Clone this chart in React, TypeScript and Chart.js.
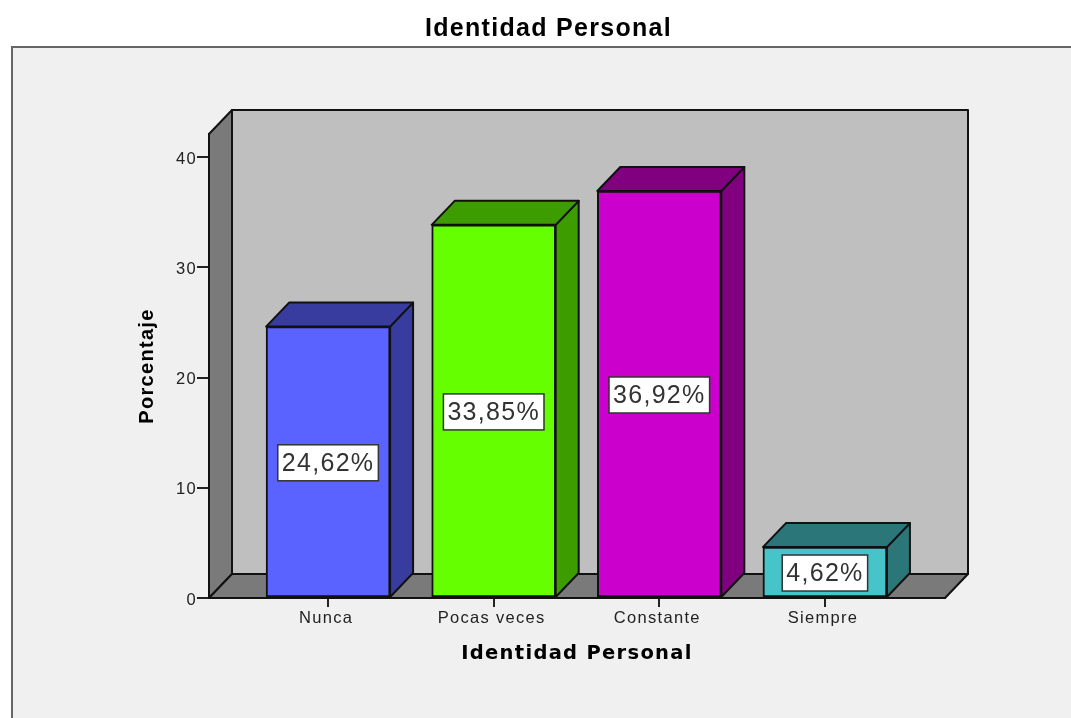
import React, { useEffect, useRef } from "react";
import { Chart, registerables } from "chart.js";

Chart.register(...registerables);

const categories = ["Nunca", "Pocas veces", "Constante", "Siempre"];
const percentages = [24.62, 33.85, 36.92, 4.62];
const valueLabels = ["24,62%", "33,85%", "36,92%", "4,62%"];
const frontColors = ["#5a62ff", "#66ff00", "#cc00cc", "#47c4c9"];
const shadeColors = ["#383c9e", "#3c9c00", "#800080", "#2b7679"];
const yTicks = [0, 10, 20, 30, 40];

const DX = 23;
const DY = 24;
const LINE = "#111111";

function poly(ctx: CanvasRenderingContext2D, pts: number[][], fill: string) {
  ctx.beginPath();
  pts.forEach((p, i) => (i ? ctx.lineTo(p[0], p[1]) : ctx.moveTo(p[0], p[1])));
  ctx.closePath();
  ctx.fillStyle = fill;
  ctx.fill();
  ctx.strokeStyle = LINE;
  ctx.lineWidth = 2;
  ctx.lineJoin = "round";
  ctx.stroke();
}

const box3d = {
  id: "box3d",
  beforeDraw(chart: any) {
    const ctx = chart.ctx;
    ctx.save();
    ctx.fillStyle = "#f0f0f0";
    ctx.fillRect(12, 47, chart.width, chart.height);
    ctx.strokeStyle = "#666666";
    ctx.lineWidth = 2;
    ctx.strokeRect(12, 47, chart.width + 20, chart.height + 20);
    ctx.restore();
    ctx.letterSpacing = "1.3px";
  },
  beforeDatasetsDraw(chart: any) {
    const ctx = chart.ctx;
    const { left, right, top, bottom } = chart.chartArea;
    ctx.save();
    poly(ctx, [[left + DX, top - DY], [right + DX, top - DY], [right + DX, bottom - DY], [left + DX, bottom - DY]], "#bfbfbf");
    poly(ctx, [[left, top], [left + DX, top - DY], [left + DX, bottom - DY], [left, bottom]], "#7a7a7a");
    poly(ctx, [[left, bottom], [left + DX, bottom - DY], [right + DX, bottom - DY], [right, bottom]], "#7a7a7a");
    const meta = chart.getDatasetMeta(0);
    meta.data.forEach((bar: any, i: number) => {
      const hw = bar.width / 2;
      const l = bar.x - hw;
      const r = bar.x + hw;
      const t = bar.y;
      const b = bar.base;
      poly(ctx, [[r, t], [r + DX, t - DY], [r + DX, b - DY], [r, b]], shadeColors[i]);
      poly(ctx, [[l, t], [l + DX, t - DY], [r + DX, t - DY], [r, t]], shadeColors[i]);
    });
    ctx.restore();
  },
  afterDatasetsDraw(chart: any) {
    const ctx = chart.ctx;
    const meta = chart.getDatasetMeta(0);
    ctx.save();
    ctx.font = '25px "Liberation Sans"';
    ctx.letterSpacing = "1.3px";
    ctx.textAlign = "center";
    ctx.textBaseline = "middle";
    meta.data.forEach((bar: any, i: number) => {
      const cy = (bar.y + bar.base) / 2 + 1;
      const w = ctx.measureText(valueLabels[i]).width + 8;
      ctx.fillStyle = "#ffffff";
      ctx.fillRect(bar.x - w / 2, cy - 18, w, 36);
      ctx.strokeStyle = "#333333";
      ctx.lineWidth = 1.5;
      ctx.strokeRect(bar.x - w / 2, cy - 18, w, 36);
      ctx.fillStyle = "#333333";
      ctx.fillText(valueLabels[i], bar.x, cy + 1);
    });
    ctx.restore();
  },
};

export default function App() {
  const ref = useRef<HTMLCanvasElement>(null);
  useEffect(() => {
    const chart = new Chart(ref.current as HTMLCanvasElement, {
      type: "bar",
      data: {
        datasets: [
          {
            data: percentages.map((v, i) => ({ x: i, y: v })),
            backgroundColor: frontColors,
            borderColor: LINE,
            borderWidth: 2,
            borderSkipped: false,
            barThickness: 124,
          } as any,
        ],
      },
      options: {
        responsive: false,
        animation: false,
        events: [],
        plugins: {
          legend: { display: false },
          tooltip: { enabled: false },
          title: {
            display: true,
            text: "Identidad Personal",
            color: "#000000",
            font: { family: "Liberation Sans", size: 25, weight: "bold" },
            padding: { top: 14, bottom: 90 },
          },
        },
        scales: {
          x: {
            type: "linear",
            offset: false,
            min: -0.719,
            max: 3.725,
            afterBuildTicks: (s: any) => {
              s.ticks = categories.map((_, i) => ({ value: i }));
            },
            afterFit: (s: any) => {
              s.height = 120;
            },
            ticks: {
              autoSkip: false,
              maxRotation: 0,
              color: "#222222",
              padding: 2,
              labelOffset: -2,
              font: { family: "Liberation Sans", size: 16.5 },
              callback: (v: any) => categories[v] ?? "",
            },
            grid: { offset: false, drawOnChartArea: false, drawTicks: true, tickLength: 9, color: "#222222", lineWidth: 2 },
            border: { display: true, color: "#111111", width: 2 },
            title: {
              display: true,
              text: "Identidad Personal",
              color: "#000000",
              font: { family: "DejaVu Sans", size: 19.5, weight: "bold" },
              padding: { top: 0, bottom: 52 },
            },
          },
          y: {
            type: "linear",
            min: 0,
            max: 42.09,
            afterBuildTicks: (s: any) => {
              s.ticks = yTicks.map((value) => ({ value }));
            },
            afterFit: (s: any) => {
              s.width = 209;
            },
            ticks: {
              color: "#222222",
              padding: 0,
              labelOffset: 2,
              font: { family: "Liberation Sans", size: 16.5 },
            },
            grid: { drawOnChartArea: false, drawTicks: true, tickLength: 12, color: "#222222", lineWidth: 2 },
            border: { display: true, color: "#111111", width: 2 },
            title: {
              display: true,
              text: "Porcentaje",
              color: "#000000",
              font: { family: "Liberation Sans", size: 20, weight: "bold" },
              padding: { top: 135, bottom: 0 },
            },
          },
          spacer: {
            type: "linear",
            axis: "y",
            position: "right",
            afterFit: (s: any) => {
              s.width = 152;
            },
            ticks: { display: false },
            grid: { display: false },
            border: { display: false },
            title: { display: false },
          },
        },
      },
      plugins: [box3d],
    } as any);
    return () => chart.destroy();
  }, []);
  return (
    <div style={{ position: "fixed", left: 0, top: 0, width: 1071, height: 718, overflow: "hidden", background: "#ffffff" }}>
      <canvas ref={ref} width={1097} height={718} style={{ display: "block" }} />
    </div>
  );
}
